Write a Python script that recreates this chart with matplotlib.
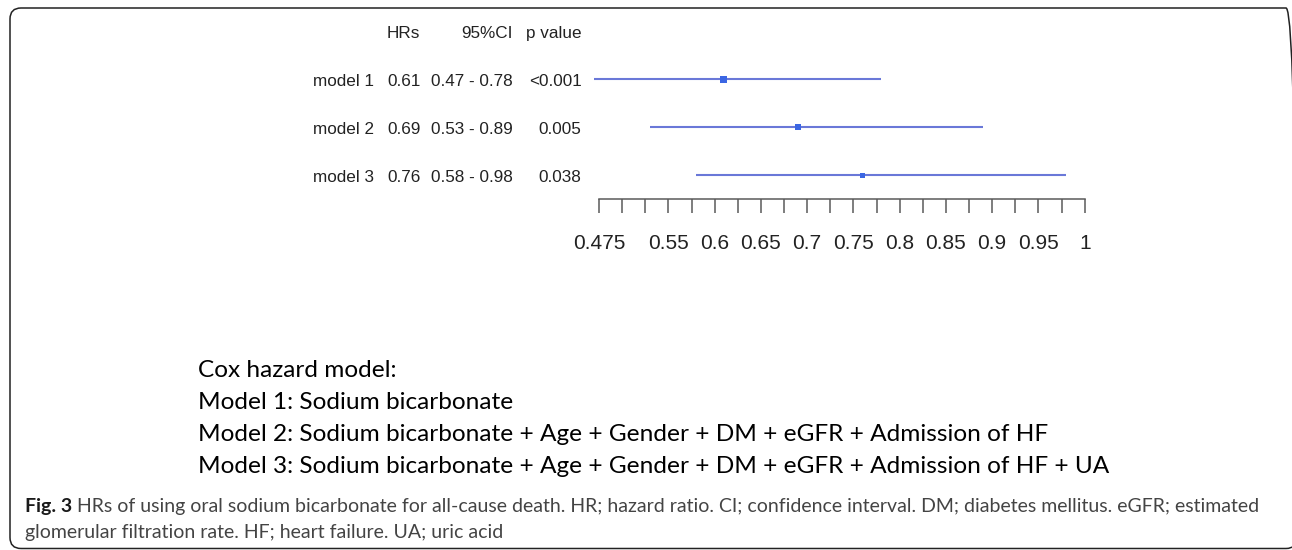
import matplotlib
matplotlib.use('Agg')
import matplotlib.pyplot as plt
from matplotlib.patches import FancyBboxPatch
from matplotlib.transforms import IdentityTransform
import numpy as np

# ---------------- data ----------------
models = ['model 1', 'model 2', 'model 3']
hr = [0.61, 0.69, 0.76]
ci_low = [0.47, 0.53, 0.58]
ci_high = [0.78, 0.89, 0.98]
hr_text = ['0.61', '0.69', '0.76']
ci_text = ['0.47 - 0.78', '0.53 - 0.89', '0.58 - 0.98']
p_values = ['<0.001', '0.005', '0.038']
headers = ['HRs', '95%CI', 'p value']
tick_labels = ['0.475', '0.55', '0.6', '0.65', '0.7', '0.75', '0.8', '0.85', '0.9', '0.95', '1']
tick_minor = [0.475, 0.5, 0.525, 0.55, 0.575, 0.6, 0.625, 0.65, 0.675, 0.7, 0.725,
              0.75, 0.775, 0.8, 0.825, 0.85, 0.875, 0.9, 0.925, 0.95, 0.975, 1.0]
legend_lines = [
    'Cox hazard model:',
    'Model 1: Sodium bicarbonate',
    'Model 2: Sodium bicarbonate + Age + Gender + DM + eGFR + Admission of HF',
    'Model 3: Sodium bicarbonate + Age + Gender + DM + eGFR + Admission of HF + UA',
]
caption_bold = 'Fig. 3'
caption_line1 = (' HRs of using oral sodium bicarbonate for all-cause death. HR; hazard ratio. '
                 'CI; confidence interval. DM; diabetes mellitus. eGFR; estimated')
caption_line2 = 'glomerular filtration rate. HF; heart failure. UA; uric acid'

# ---------------- style ----------------
marker_sizes = [24, 18, 16]
line_color = '#6a78d8'
point_color = '#3b66e3'
text_color = '#222222'
tick_color = '#5a5a5a'

W, H = 1292, 550
fig = plt.figure(figsize=(W / 100, H / 100), dpi=100)
fig.patch.set_facecolor('white')


def fx(x):
    return x / W


def fy(y):
    return 1 - y / H


# ---------------- forest plot axes ----------------
x0, x1 = 599, 1084.7
ytop, ybot = 31.3, 199.3
ax = fig.add_axes([fx(x0), fy(ybot), (x1 - x0) / W, (ybot - ytop) / H])
ax.set_xlim(0.475, 1.0)
ax.set_ylim(3.5, 0)
for s in ['top', 'left', 'right']:
    ax.spines[s].set_visible(False)
ax.spines['bottom'].set_color(tick_color)
ax.spines['bottom'].set_linewidth(1.1)
ax.set_yticks([])
ax.set_xticks([float(t) for t in tick_labels])
ax.set_xticklabels(tick_labels, fontsize=15, family='Liberation Sans', color=text_color)
ax.set_xticks(tick_minor, minor=True)
ax.tick_params(axis='x', which='both', direction='out', length=10, width=1.1,
               color=tick_color, pad=15)
ax.set_facecolor('none')

rows = np.arange(1, len(models) + 1)
ax.hlines(rows, ci_low, ci_high, color=line_color, lw=1.5, clip_on=False)
ax.scatter(hr, rows, marker='s', s=marker_sizes, color=point_color, zorder=3,
           clip_on=False, linewidths=0)

# ---------------- table text ----------------
tfont = dict(family='Liberation Sans', fontsize=12.3, color=text_color)
header_base = 38.3
row_base = [85.8, 133.8, 182.5]
fig.text(fx(387), fy(header_base), headers[0], ha='left', va='baseline', **tfont)
fig.text(fx(513), fy(header_base), headers[1], ha='right', va='baseline', **tfont)
fig.text(fx(581.5), fy(header_base), headers[2], ha='right', va='baseline', **tfont)
for i in range(len(models)):
    fig.text(fx(313), fy(row_base[i]), models[i], ha='left', va='baseline', **tfont)
    fig.text(fx(387), fy(row_base[i]), hr_text[i], ha='left', va='baseline', **tfont)
    fig.text(fx(513), fy(row_base[i]), ci_text[i], ha='right', va='baseline', **tfont)
    fig.text(fx(581.5), fy(row_base[i]), p_values[i], ha='right', va='baseline', **tfont)

# ---------------- legend block ----------------
fig.canvas.draw()
renderer = fig.canvas.get_renderer()

leg_font = 'Lato'
leg_base = [377.3, 409.0, 441.3, 473.3]
leg_texts = []
for i, line in enumerate(legend_lines):
    leg_texts.append(fig.text(fx(198), fy(leg_base[i]), line, ha='left', va='baseline',
                              family=leg_font, fontsize=18, color='black'))
w = leg_texts[-1].get_window_extent(renderer).width
fs = 18 * 907 / w
for t in leg_texts:
    t.set_fontsize(fs)

# ---------------- caption ----------------
cap_font = 'Lato'
cap_color = '#444444'
cfs = 14
tb = fig.text(fx(25), fy(512), caption_bold, ha='left', va='baseline', family=cap_font,
              fontsize=cfs, weight='bold', color='#1a1a1a')
tr = fig.text(fx(25), fy(512), caption_line1, ha='left', va='baseline', family=cap_font,
              fontsize=cfs, color=cap_color)
t2 = fig.text(fx(25), fy(538), caption_line2, ha='left', va='baseline', family=cap_font,
              fontsize=cfs, color=cap_color)
for _ in range(3):
    fig.canvas.draw()
    wb = tb.get_window_extent(renderer).width
    wr = tr.get_window_extent(renderer).width
    cfs = cfs * 1230 / (wb + wr)
    for t in (tb, tr, t2):
        t.set_fontsize(cfs)
    fig.canvas.draw()
    wb = tb.get_window_extent(renderer).width
    tr.set_x(fx(25 + wb))

# ---------------- border ----------------
border = FancyBboxPatch((10, 1.5), 1287, 540.5,
                        boxstyle='round,pad=0,rounding_size=11',
                        transform=IdentityTransform(), fill=False,
                        edgecolor='#222222', lw=1.1)
fig.add_artist(border)

fig.savefig('out.png', dpi=100, facecolor='white')
